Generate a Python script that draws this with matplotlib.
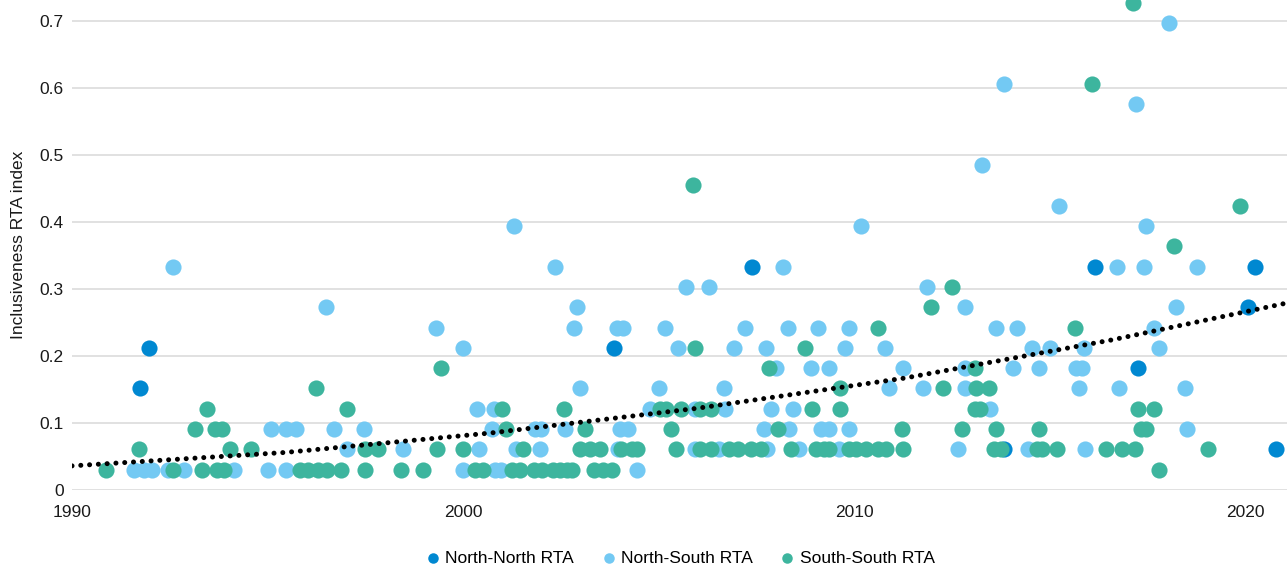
import numpy as np
import matplotlib
matplotlib.use("Agg")
import matplotlib.pyplot as plt

plt.rcParams['font.family'] = ['Liberation Sans', 'DejaVu Sans']

# North-North RTA
nn_years = [1991.73, 1991.96, 2003.86, 2007.39, 2013.84, 2016.15, 2017.25, 2020.08, 2020.24, 2020.79]
nn_vals = [0.152, 0.212, 0.212, 0.333, 0.061, 0.333, 0.182, 0.273, 0.333, 0.061]

# North-South RTA
ns_years = [1991.59, 1991.84, 1992.05, 1992.46, 1992.86, 1992.58, 1994.14, 1995.01, 1995.47, 1995.09,
            1995.47, 1995.73, 1996.49, 1996.70, 1997.03, 1997.47, 1998.46, 1999.30, 1999.99, 2000.01,
            2000.35, 2000.42, 2000.74, 2000.79, 2000.82, 2000.96, 2001.30, 2001.36, 2001.83, 2001.99,
            2001.98, 2002.35, 2002.60, 2002.84, 2002.92, 2002.98, 2003.93, 2004.10, 2003.96, 2004.01,
            2004.22, 2004.45, 2004.77, 2005.01, 2005.17, 2005.50, 2005.70, 2005.93, 2005.93, 2006.28,
            2006.55, 2006.67, 2006.71, 2006.92, 2007.22, 2007.69, 2007.75, 2007.77, 2007.88, 2008.00,
            2008.19, 2008.30, 2008.33, 2008.45, 2008.60, 2008.90, 2009.07, 2009.16, 2009.35, 2009.37,
            2009.62, 2009.77, 2009.88, 2009.88, 2010.17, 2010.78, 2010.88, 2011.26, 2011.77, 2011.86,
            2012.65, 2012.84, 2012.84, 2012.84, 2013.27, 2013.48, 2013.64, 2013.84, 2014.07, 2014.16,
            2014.44, 2014.54, 2014.73, 2015.02, 2015.24, 2015.67, 2015.75, 2015.84, 2015.88, 2015.91,
            2016.73, 2016.78, 2017.21, 2017.42, 2017.46, 2017.68, 2017.79, 2018.06, 2018.23, 2018.45,
            2018.52, 2018.78]
ns_vals = [0.030, 0.030, 0.030, 0.030, 0.030, 0.333, 0.030, 0.030, 0.030, 0.091,
           0.091, 0.091, 0.273, 0.091, 0.061, 0.091, 0.061, 0.242, 0.030, 0.212,
           0.121, 0.061, 0.091, 0.121, 0.030, 0.030, 0.394, 0.061, 0.091, 0.091,
           0.061, 0.333, 0.091, 0.242, 0.273, 0.152, 0.242, 0.242, 0.061, 0.091,
           0.091, 0.030, 0.121, 0.152, 0.242, 0.212, 0.303, 0.121, 0.061, 0.303,
           0.061, 0.152, 0.121, 0.212, 0.242, 0.091, 0.212, 0.061, 0.121, 0.182,
           0.333, 0.242, 0.091, 0.121, 0.061, 0.182, 0.242, 0.091, 0.182, 0.091,
           0.061, 0.212, 0.242, 0.091, 0.394, 0.212, 0.152, 0.182, 0.152, 0.303,
           0.061, 0.273, 0.182, 0.152, 0.485, 0.121, 0.242, 0.606, 0.182, 0.242,
           0.061, 0.212, 0.182, 0.212, 0.424, 0.182, 0.152, 0.182, 0.212, 0.061,
           0.333, 0.152, 0.576, 0.333, 0.394, 0.242, 0.212, 0.697, 0.273, 0.152,
           0.091, 0.333]

# South-South RTA
ss_years = [1990.86, 1992.58, 1993.32, 1993.71, 1993.88, 1995.83, 1996.04, 1996.29, 1996.52, 1996.89,
            1997.49, 1998.41, 1998.97, 2000.31, 2000.52, 2001.24, 2001.46, 2001.82, 2002.01, 2002.30,
            2002.49, 2002.66, 2002.79, 2003.35, 2003.57, 2003.80, 2017.80,
            1991.71, 1994.04, 1994.58, 1997.49, 1997.83, 1999.33, 2000.01, 2001.53, 2002.99, 2003.25,
            2003.50, 2004.04, 2004.32, 2004.46, 2005.45, 2006.07, 2006.34, 2006.81, 2007.03, 2007.37,
            2007.62, 2008.39, 2009.03, 2009.24, 2009.37, 2009.88, 2010.05, 2010.31, 2010.61, 2010.82,
            2011.26, 2013.58, 2013.76, 2014.68, 2014.81, 2015.20, 2016.45, 2016.85, 2017.19, 2019.06,
            1993.15, 1993.65, 1993.84, 2001.11, 2003.13, 2005.33, 2008.05, 2011.23, 2012.75, 2013.64,
            2014.73, 2017.33, 2017.47,
            1993.45, 1997.03, 2001.00, 2002.58, 2005.03, 2005.20, 2005.58, 2006.06, 2006.34, 2008.93,
            2009.65, 2013.09, 2013.22, 2017.25, 2017.68,
            1996.23, 2009.65, 2012.28, 2013.11, 2013.45,
            1999.44, 2007.83, 2013.08,
            2005.93, 2008.74,
            2010.61, 2015.65,
            2011.96, 2012.50, 2018.19, 2019.87, 2005.89, 2016.08, 2017.14]
ss_vals = [0.030] * 27 + [0.061] * 40 + [0.091] * 13 + [0.121] * 15 + [0.152] * 5 + [0.182] * 3 \
          + [0.212] * 2 + [0.242] * 2 + [0.273, 0.303, 0.364, 0.424, 0.455, 0.606, 0.727]

# dotted trend line
trend_years = [1990.0, 1995.45, 2000.7, 2006.0, 2011.3, 2016.6, 2021.07]
trend_vals = [0.036, 0.056, 0.085, 0.122, 0.167, 0.224, 0.279]

c_nn = '#0088d1'
c_ns = '#73c9f3'
c_ss = '#3db59e'

fig = plt.figure(figsize=(12.87, 5.67), dpi=100)
ax = fig.add_axes([72 / 1287, 1 - 490 / 567, 1215 / 1287, 490 / 567])

ms = 135
ax.scatter(nn_years, nn_vals, s=ms, color=c_nn, linewidths=0, label='North-North RTA', zorder=3)
ax.scatter(ns_years, ns_vals, s=ms, color=c_ns, linewidths=0, label='North-South RTA', zorder=3)
ax.scatter(ss_years, ss_vals, s=ms, color=c_ss, linewidths=0, label='South-South RTA', zorder=3)

ax.plot(trend_years, trend_vals, color='black', linewidth=3.6,
        linestyle=(0, (0.01, 1.75)), dash_capstyle='round', zorder=4)

ax.set_xlim(1990, 2021.07)
ax.set_ylim(0, 0.731)
ax.set_xticks([1990, 2000, 2010, 2020])
ax.set_yticks(np.arange(0, 0.71, 0.1))
ax.set_yticklabels(['0', '0.1', '0.2', '0.3', '0.4', '0.5', '0.6', '0.7'])
ax.yaxis.grid(True, color='#d9d9d9', linewidth=1.1)
ax.set_axisbelow(True)
for sp in ax.spines.values():
    sp.set_visible(False)
ax.tick_params(axis='both', length=0, labelsize=12.5, colors='#1a1a1a')
ax.tick_params(axis='y', pad=6)
ax.tick_params(axis='x', pad=11)
ax.set_ylabel('Inclusiveness RTA index', fontsize=12.5, color='#1a1a1a', labelpad=10)

ax.legend(loc='center', bbox_to_anchor=(0.5, -0.139), ncol=3, frameon=False,
          fontsize=12.5, markerscale=0.65, handletextpad=0.2, columnspacing=1.5,
          handlelength=1.0)

fig.savefig('out.png', dpi=100)
